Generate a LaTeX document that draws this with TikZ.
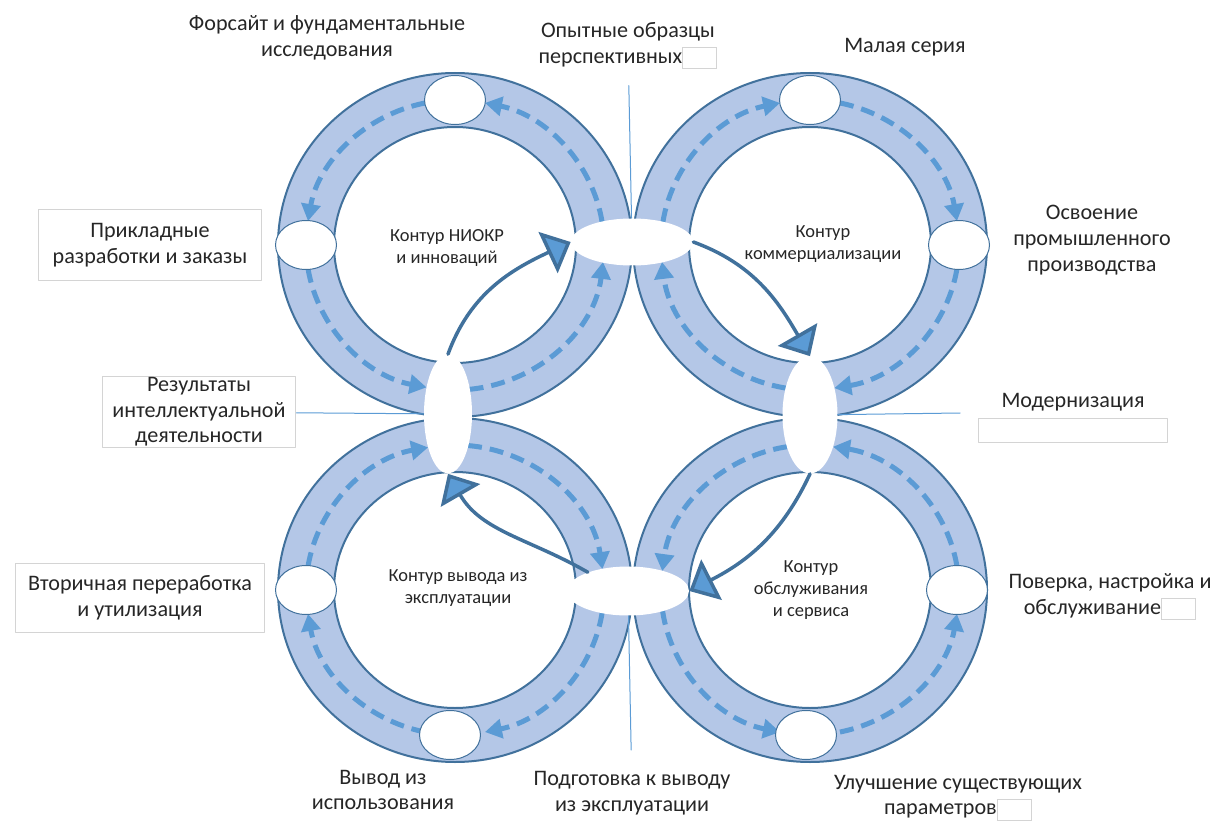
\documentclass[tikz,border=0pt]{standalone}
\usepackage{fontspec}
\setmainfont{Carlito}
\usepackage{xcolor}
\usepackage{tikz}
\usetikzlibrary{shapes,arrows,arrows.meta}
\usetikzlibrary{calc}
\definecolor{ringfill}{HTML}{B4C7E7}
\definecolor{ringline}{HTML}{41719C}
\definecolor{flowblue}{HTML}{5B9BD5}
\definecolor{boxgray}{HTML}{D4D4D4}
\definecolor{txt}{HTML}{262626}
\newcommand{\blankbox}{\raisebox{-0.1cm}{\textcolor{boxgray}{\setlength{\fboxsep}{0pt}\setlength{\fboxrule}{0.6pt}\fbox{\rule{0pt}{0.4cm}\hspace{0.66cm}}}}}
\tikzset{
	ring/.style={fill=ringfill,draw=ringline,line width=0.04cm,even odd rule},
	flow/.style={draw=flowblue,line width=0.1cm,line cap=butt,dash pattern=on 0.28cm off 0.16cm,-{Triangle[length=0.34cm,width=0.38cm]}},
	stage/.style={ellipse,draw=ringline,fill=white,line width=0.02cm,minimum width=1.22cm,minimum height=0.98cm,inner sep=0pt},
	hub/.style={ellipse,fill=white,inner sep=0pt},
	loopar/.style={draw=ringline,line width=0.07cm,-{Triangle[length=0.5cm,width=0.9cm,fill=flowblue]}},
	tie/.style={draw=flowblue,line width=0.02cm},
	lab/.style={text=txt,font=\fontsize{12.6}{14.6}\selectfont,align=center},
	inlab/.style={text=txt,font=\fontsize{10.5}{12.5}\selectfont,align=center},
	labbox/.style={lab,draw=boxgray,line width=0.02cm,inner sep=0pt}
}
\begin{document}
\begin{tikzpicture}[line cap=round,line join=round,x=0.02cm,y=0.02cm]
	\useasboundingbox (0.,0.) rectangle (1214.,823.);
	\coordinate (nio) at (455.,578.);
	\coordinate (kom) at (810.,578.);
	\coordinate (vyv) at (455.,233.);
	\coordinate (obs) at (810.,233.);
	\filldraw[ring] (nio) ellipse (177. and 172.) (nio) ellipse (121. and 118.);
	\filldraw[ring] (kom) ellipse (177. and 172.) (kom) ellipse (121. and 118.);
	\filldraw[ring] (vyv) ellipse (177. and 172.) (vyv) ellipse (121. and 118.);
	\filldraw[ring] (obs) ellipse (177. and 172.) (obs) ellipse (121. and 118.);
	\draw[flow] ($(nio)+(101.6:149. and 145.)$) arc (101.6:170.5:149. and 145.);
	\draw[flow] ($(nio)+(189.5:149. and 145.)$) arc (189.5:259.:149. and 145.);
	\draw[flow] ($(nio)+(275.6:149. and 145.)$) arc (275.6:353.3:149. and 145.);
	\draw[flow] ($(nio)+(9.1:149. and 145.)$) arc (9.1:78.4:149. and 145.);
	\draw[flow] ($(kom)+(170.9:149. and 145.)$) arc (170.9:101.6:149. and 145.);
	\draw[flow] ($(kom)+(78.4:149. and 145.)$) arc (78.4:9.5:149. and 145.);
	\draw[flow] ($(kom)+(-9.5:149. and 145.)$) arc (-9.5:-80.6:149. and 145.);
	\draw[flow] ($(kom)+(-99.4:149. and 145.)$) arc (-99.4:-173.3:149. and 145.);
	\draw[flow] ($(vyv)+(85.:149. and 145.)$) arc (85.:8.3:149. and 145.);
	\draw[flow] ($(vyv)+(-9.1:149. and 145.)$) arc (-9.1:-78.4:149. and 145.);
	\draw[flow] ($(vyv)+(-101.6:149. and 145.)$) arc (-101.6:-170.5:149. and 145.);
	\draw[flow] ($(vyv)+(170.5:149. and 145.)$) arc (170.5:100.4:149. and 145.);
	\draw[flow] ($(obs)+(98.9:149. and 145.)$) arc (98.9:172.5:149. and 145.);
	\draw[flow] ($(obs)+(188.3:149. and 145.)$) arc (188.3:258.4:149. and 145.);
	\draw[flow] ($(obs)+(281.6:149. and 145.)$) arc (281.6:350.5:149. and 145.);
	\draw[flow] ($(obs)+(9.5:149. and 145.)$) arc (9.5:81.1:149. and 145.);
	\node[stage] (fors) at ($(nio)+(0.,145.)$) {};
	\node[stage] (prik) at ($(nio)+(-149.,0.)$) {};
	\node[stage] (mal) at ($(kom)+(0.,145.)$) {};
	\node[stage] (osv) at ($(kom)+(149.,0.)$) {};
	\node[stage] (vtor) at ($(vyv)+(-149.,0.)$) {};
	\node[stage] (vyvisp) at ($(vyv)+(-5.,-145.)$) {};
	\node[stage] (pov) at ($(obs)+(147.,0.)$) {};
	\node[stage] (ulu) at ($(obs)+(-4.,-145.)$) {};
	\node[hub,minimum width=2.44cm,minimum height=0.94cm] (tm) at (632.,581.) {};
	\node[hub,minimum width=0.96cm,minimum height=2.38cm] (ml) at (448.,409.) {};
	\node[hub,minimum width=1.1cm,minimum height=2.34cm] (mr) at (810.,408.) {};
	\node[hub,minimum width=2.44cm,minimum height=0.98cm] (bm) at (628.,232.) {};
	\draw (327.,785.) node[lab] (lfors) {Форсайт и фундаментальные\\исследования};
	\draw (628.,777.) node[lab] (lopyt) {Опытные образцы\\перспективных\blankbox};
	\draw (905.,776.) node[lab] (lmal) {Малая серия};
	\draw (150.,578.) node[labbox,minimum width=4.48cm,minimum height=1.44cm] (lprik) {Прикладные\\разработки и заказы};
	\draw (1092.,583.) node[lab] (losv) {Освоение\\промышленного\\производства};
	\draw (447.,575.) node[inlab] (lnio) {Контур НИОКР\\и инноваций};
	\draw (823.,579.) node[inlab] (lkom) {Контур\\коммерциализации};
	\draw (199.,411.) node[labbox,minimum width=3.88cm,minimum height=1.44cm] (lrez) {Результаты\\интеллектуальной\\деятельности};
	\draw (1073.,421.) node[lab] (lmod) {Модернизация};
	\draw (1073.,392.5) node[draw=boxgray,line width=0.02cm,minimum width=3.8cm,minimum height=0.5cm] (modbox) {};
	\draw (140.,225.) node[labbox,minimum width=5.cm,minimum height=1.4cm] (lvtor) {Вторичная переработка\\и утилизация};
	\draw (458.,235.) node[inlab] (lvyv) {Контур вывода из\\эксплуатации};
	\draw (811.,233.) node[inlab] (lobs) {Контур\\обслуживания\\и сервиса};
	\draw (1110.,226.) node[lab] (lpov) {Поверка, настройка и\\обслуживание\blankbox};
	\draw (383.,33.) node[lab] (lvyvisp) {Вывод из\\использования};
	\draw (632.,30.) node[lab] (lpodg) {Подготовка к выводу\\из эксплуатации};
	\draw (958.,25.) node[lab] (lulu) {Улучшение существующих\\параметров\blankbox};
	\coordinate (modend) at (960.,410.);
	\draw[tie,shorten <=0.2cm] (lopyt) -- (tm);
	\draw[tie] (lrez) -- (ml);
	\draw[tie] (mr) -- (modend);
	\draw[tie,shorten >=0.3cm] (bm) -- (lpodg);
	\draw[loopar] (ml.north) to[out=70,in=205] (tm.west);
	\draw[loopar] (tm.east) to[out=-20,in=120] (mr.north);
	\draw[loopar] (mr.south) to[out=245,in=27] (bm.east);
	\draw[loopar] (bm.155) to[out=150,in=-60] (ml.south);
\end{tikzpicture}
\end{document}
